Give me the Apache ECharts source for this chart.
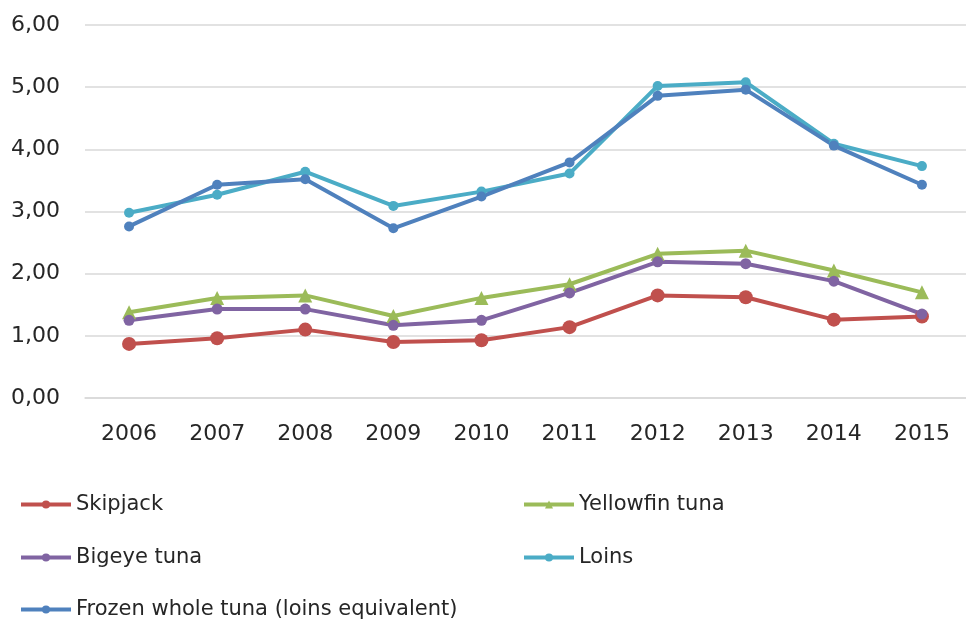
<!DOCTYPE html>
<html>
<head>
<meta charset="utf-8">
<script src="https://cdn.jsdelivr.net/npm/echarts@6/dist/echarts.min.js"></script>
<style>
  html, body { margin: 0; padding: 0; background: #fff; }
  #main { width: 966px; height: 621px; }
</style>
</head>
<body>
<div id="main"></div>
<script>
// years on the x axis
var years = ['2006', '2007', '2008', '2009', '2010', '2011', '2012', '2013', '2014', '2015'];

// values
var skipjack  = [0.87, 0.96, 1.10, 0.90, 0.93, 1.14, 1.65, 1.62, 1.26, 1.31];
var yellowfin = [1.38, 1.61, 1.65, 1.32, 1.61, 1.83, 2.32, 2.37, 2.05, 1.70];
var bigeye    = [1.25, 1.43, 1.43, 1.17, 1.25, 1.69, 2.19, 2.16, 1.88, 1.35];
var loins     = [2.98, 3.27, 3.64, 3.09, 3.32, 3.61, 5.02, 5.08, 4.09, 3.73];
var frozen    = [2.76, 3.43, 3.52, 2.73, 3.24, 3.79, 4.86, 4.96, 4.06, 3.43];

var seriesNames = ['Skipjack', 'Yellowfin tuna', 'Bigeye tuna', 'Loins', 'Frozen whole tuna (loins equivalent)'];

var FONT = 'DejaVu Sans';

function mkSeries(name, data, color, symbol, size) {
  return {
    name: name,
    type: 'line',
    data: data,
    symbol: symbol,
    symbolSize: size,
    lineStyle: { color: color, width: 4 },
    itemStyle: { color: color },
    emphasis: { disabled: true }
  };
}

// one legend per entry so they sit in the two-column layout
function mkLegend(name, left, top) {
  return {
    data: [name],
    left: left,
    top: top,
    itemWidth: 50,
    itemHeight: 10,
    lineStyle: { width: 4 },
    textStyle: { fontFamily: FONT, fontSize: 21, color: '#262626' },
    selectedMode: false
  };
}

var chart = echarts.init(document.getElementById('main'));

var option = {
  animation: false,
  backgroundColor: '#fff',
  grid: { left: 85, right: -12, top: 25, bottom: 223 },
  xAxis: {
    type: 'category',
    data: years,
    boundaryGap: true,
    axisLine: { lineStyle: { color: '#d9d9d9', width: 1.5 } },
    axisTick: { show: false },
    axisLabel: { fontFamily: FONT, fontSize: 22, color: '#262626', margin: 25 }
  },
  yAxis: {
    type: 'value',
    min: 0,
    max: 6,
    interval: 1,
    axisLine: { show: false },
    axisTick: { show: false },
    splitLine: { lineStyle: { color: '#d9d9d9', width: 1.5 } },
    axisLabel: {
      fontFamily: FONT, fontSize: 22, color: '#262626', margin: 25,
      formatter: function (v) { return v.toFixed(2).replace('.', ','); }
    }
  },
  legend: [
    mkLegend(seriesNames[0], 14, 489),
    mkLegend(seriesNames[1], 517, 489),
    mkLegend(seriesNames[2], 14, 542),
    mkLegend(seriesNames[3], 517, 542),
    mkLegend(seriesNames[4], 14, 594)
  ],
  series: [
    mkSeries(seriesNames[0], skipjack, '#C0504D', 'circle', 14),
    mkSeries(seriesNames[1], yellowfin, '#9BBB59', 'triangle', 14),
    mkSeries(seriesNames[2], bigeye, '#8064A2', 'circle', 11),
    mkSeries(seriesNames[3], loins, '#4BACC6', 'circle', 10),
    mkSeries(seriesNames[4], frozen, '#4F81BD', 'circle', 10)
  ]
};

chart.setOption(option);
</script>
</body>
</html>
